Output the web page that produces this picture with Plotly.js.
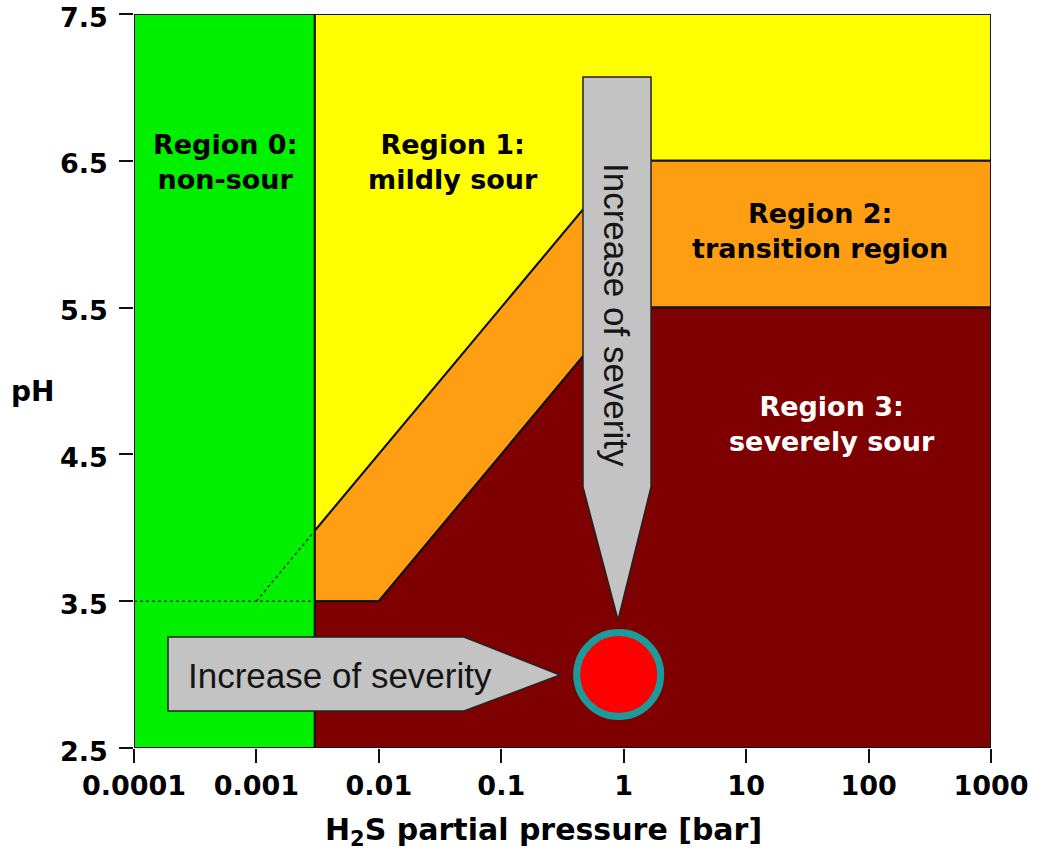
<!DOCTYPE html>
<html>
<head>
<meta charset="utf-8">
<script src="https://cdn.plot.ly/plotly-3.0.1.min.js"></script>
<style>html,body{margin:0;padding:0;background:#fff;}#chart{width:1041px;height:861px;}</style>
</head>
<body>
<div id="chart"></div>
<script>
// Region polygons: H2S partial pressure [bar] and pH
const region0P  = [0.0001, 0.003, 0.003, 0.0001, 0.0001];
const region0PH = [2.5, 2.5, 7.5, 7.5, 2.5];
const region1P  = [0.003, 1, 1000, 1000, 0.003, 0.003];
const region1PH = [3.98, 6.5, 6.5, 7.5, 7.5, 3.98];
const region2P  = [0.003, 0.01, 1, 1000, 1000, 1, 0.003, 0.003];
const region2PH = [3.5, 3.5, 5.5, 5.5, 6.5, 6.5, 3.98, 3.5];
const region3P  = [0.003, 0.003, 0.01, 1, 1000, 1000, 0.003];
const region3PH = [2.5, 3.5, 3.5, 5.5, 5.5, 2.5, 2.5];
// dotted extension lines
const dotHorizP  = [0.0001, 0.003];
const dotHorizPH = [3.5, 3.5];
const dotDiagP   = [0.001, 0.003];
const dotDiagPH  = [3.5, 3.98];
// highlighted point
const pointP  = [0.91];
const pointPH = [3.0];
// tick labels
const xTickVals = [0.0001, 0.001, 0.01, 0.1, 1, 10, 100, 1000];
const xTickText = ["0.0001", "0.001", "0.01", "0.1", "1", "10", "100", "1000"];
const yTickVals = [2.5, 3.5, 4.5, 5.5, 6.5, 7.5];
const yTickText = ["2.5", "3.5", "4.5", "5.5", "6.5", "7.5"];
// region labels
const labelText = ["Region 0:<br>non-sour", "Region 1:<br>mildly sour", "Region 2:<br>transition region", "Region 3:<br>severely sour"];
const labelP    = [0.00055, 0.0404, 40.3, 50.5];
const labelPH   = [6.49, 6.49, 6.02, 4.71];
const labelColor = ["#000", "#000", "#000", "#fff"];

function poly(x, y, color) {
  return {x: x, y: y, type: 'scatter', mode: 'lines', fill: 'toself', fillcolor: color,
          line: {color: '#111', width: 2}, hoverinfo: 'skip', showlegend: false};
}

const traces = [
  poly(region0P, region0PH, '#00f000'),
  poly(region1P, region1PH, '#ffff00'),
  poly(region2P, region2PH, '#ff9e12'),
  poly(region3P, region3PH, '#7f0000'),
  {x: dotHorizP, y: dotHorizPH, type: 'scatter', mode: 'lines', line: {color: '#333', width: 1.5, dash: 'dot'}, showlegend: false, hoverinfo: 'skip'},
  {x: dotDiagP, y: dotDiagPH, type: 'scatter', mode: 'lines', line: {color: '#333', width: 1.5, dash: 'dot'}, showlegend: false, hoverinfo: 'skip'}
];

const circleTrace = {x: pointP, y: pointPH, type: 'scatter', mode: 'markers',
  marker: {size: 84, color: '#ff0000', line: {color: '#1b9b9b', width: 7}}, showlegend: false, hoverinfo: 'skip'};

// arrow shapes in paper coordinates (plot area 134..991 x 14..748)
function px(x) { return (x - 134) / 857; }
function py(y) { return (748 - y) / 734; }
function pt(x, y) { return px(x).toFixed(4) + ',' + py(y).toFixed(4); }
const vArrow = 'M' + pt(583, 77) + ' L' + pt(651, 77) + ' L' + pt(651, 487) + ' L' + pt(618, 620) + ' L' + pt(583, 487) + ' Z';
const hArrow = 'M' + pt(168, 637) + ' L' + pt(464, 637) + ' L' + pt(560, 675) + ' L' + pt(464, 711) + ' L' + pt(168, 711) + ' Z';

const annotations = labelText.map((t, i) => ({
  x: Math.log10(labelP[i]), y: labelPH[i], xref: 'x', yref: 'y', text: '<b>' + t + '</b>',
  xanchor: 'center', yanchor: 'middle',
  showarrow: false, font: {family: 'DejaVu Sans', size: 27, color: labelColor[i]}, align: 'center'
}));
// y tick labels (drawn as annotations so the top one sits just inside the figure)
yTickVals.forEach((v, i) => annotations.push({
  x: px(109), y: v, xref: 'paper', yref: 'y', text: '<b>' + yTickText[i] + '</b>',
  xanchor: 'right', yanchor: 'middle', yshift: -3, showarrow: false, borderpad: 0,
  font: {family: 'DejaVu Sans', size: 27, color: '#000'}
}));
annotations.push({x: px(340), y: py(675), xref: 'paper', yref: 'paper', text: 'Increase of severity',
  xanchor: 'center', yanchor: 'middle',
  showarrow: false, font: {family: 'Liberation Sans, Arial', size: 35, color: '#151515'}});
annotations.push({x: px(617), y: py(315), xref: 'paper', yref: 'paper', text: 'Increase of severity', textangle: 90,
  xanchor: 'center', yanchor: 'middle',
  showarrow: false, font: {family: 'Liberation Sans, Arial', size: 35, color: '#151515'}});
annotations.push({x: px(32), y: py(392), xref: 'paper', yref: 'paper', text: '<b>pH</b>', showarrow: false,
  xanchor: 'center', yanchor: 'middle',
  font: {family: 'DejaVu Sans', size: 28, color: '#000'}});
annotations.push({x: px(543), y: py(831), xref: 'paper', yref: 'paper', text: '<b>H<sub>2</sub>S partial pressure [bar]</b>',
  showarrow: false, xanchor: 'center', yanchor: 'middle',
  font: {family: 'DejaVu Sans', size: 30, color: '#000'}});

const layout = {
  width: 1041, height: 861,
  margin: {l: 134, r: 50, t: 14, b: 113},
  paper_bgcolor: '#fff', plot_bgcolor: '#fff',
  xaxis: {type: 'log', range: [-4, 3], tickvals: xTickVals, ticktext: xTickText,
          ticks: 'outside', ticklen: 14, tickwidth: 2, tickcolor: '#111', showgrid: false, zeroline: false,
          ticklabeloverflow: 'allow',
          tickfont: {family: 'DejaVu Sans', size: 27, color: '#000', weight: 'bold'},
          fixedrange: true},
  yaxis: {range: [2.5, 7.5], tickvals: yTickVals, showticklabels: false,
          ticks: 'outside', ticklen: 14, tickwidth: 2, tickcolor: '#111', showgrid: false, zeroline: false,
          fixedrange: true},
  shapes: [
    {type: 'path', xref: 'paper', yref: 'paper', path: vArrow, fillcolor: '#c3c3c3', line: {color: '#222', width: 1.5}, layer: 'above'},
    {type: 'path', xref: 'paper', yref: 'paper', path: hArrow, fillcolor: '#c3c3c3', line: {color: '#222', width: 1.5}, layer: 'above'}
  ],
  annotations: annotations,
  showlegend: false
};

Plotly.newPlot('chart', traces.concat([circleTrace]), layout, {displayModeBar: false, staticPlot: true});
</script>
</body>
</html>
